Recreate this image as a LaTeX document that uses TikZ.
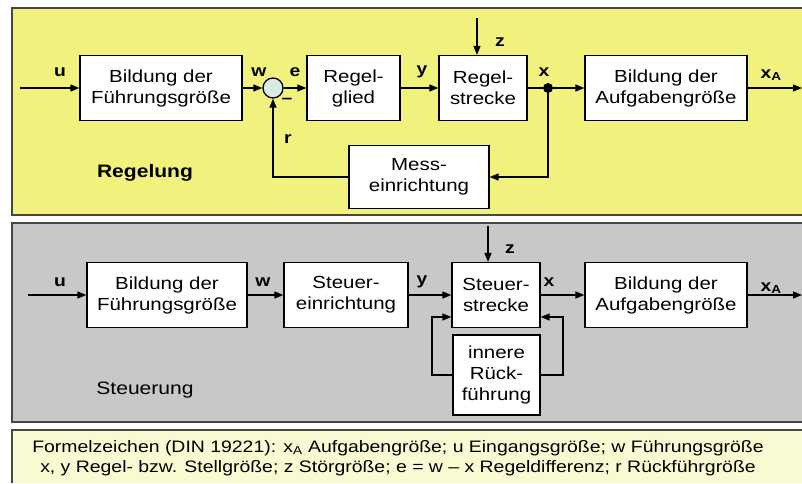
\documentclass[tikz,border=0pt]{standalone}
\usepackage{fontspec}
\setmainfont{Liberation Sans}[FakeStretch=1.17]
\usetikzlibrary{positioning, arrows.meta, calc}
\definecolor{panelyellow}{RGB}{240,242,125}
\definecolor{panelgray}{RGB}{200,200,200}
\definecolor{noteyellow}{RGB}{250,250,210}
\definecolor{framegray}{RGB}{70,70,70}
\definecolor{sumfill}{RGB}{215,236,228}

\begin{document}
\begin{tikzpicture}[x=1pt, y=-1pt,
    blk/.style={draw, line width=1.2pt, fill=white, align=center, inner sep=0pt,
        font=\fontsize{17.5}{21}\selectfont},
    sig/.style={font=\bfseries\fontsize{16.5}{18}\selectfont, inner sep=0pt},
    arr/.style={line width=1.3pt, -{Triangle[length=9pt, width=7pt]}},
    ln/.style={line width=1.3pt},
    frame/.style={framegray, line width=1.8pt}]
    \useasboundingbox (0,0) rectangle (802,483);
    \fill[white] (0,0) rectangle (802,483);
    % Regelung
    \fill[panelyellow] (12,8) rectangle (802,215);
    \draw[frame] (802,8) -- (12,8) -- (12,215) -- (802,215);
    \node[blk, minimum width=162, minimum height=65] (fgA) at (161,88) {Bildung der\\Führungsgröße};
    \node[circle, draw, fill=sumfill, minimum size=20, inner sep=0pt, line width=1.3pt] (sum) at (273,88) {};
    \node[blk, minimum width=93, minimum height=65] (rg) at (353.5,88) {Regel-\\glied};
    \node[blk, minimum width=88, minimum height=65] (rs) at (483,88) {Regel-\\strecke};
    \node[blk, minimum width=162, minimum height=65] (agA) at (666,88) {Bildung der\\Aufgabengröße};
    \node[blk, minimum width=140, minimum height=63] (mess) at (419,177) {Mess-\\einrichtung};
    \coordinate (uA) at (20,88);
    \coordinate (dot) at (548,88);
    \coordinate (xA) at (802,88);
    \coordinate (zA) at (477,18);
    \draw[arr] (uA) -- (fgA);
    \draw[arr] (fgA) -- (sum);
    \draw[arr] (sum) -- (rg);
    \draw[arr] (rg) -- (rs);
    \draw[ln] (rs) -- (dot);
    \draw[arr] (dot) -- (agA);
    \draw[arr] (agA) -- (xA);
    \draw[arr] (zA) -- (zA |- rs.north);
    \draw[arr] (dot) |- (mess);
    \draw[arr] (mess) -| (sum);
    \fill (dot) circle (5);
    \node[sig] (luA) at (60,72) {u};
    \node[sig] (lwA) at (259,72) {w};
    \node[sig] (le) at (295,72) {e};
    \node[sig] (lminus) at (287,101) {–};
    \node[sig] (lr) at (288,139) {r};
    \node[sig] (lyA) at (422,72) {y};
    \node[sig] (lxA) at (544,72) {x};
    \node[sig] (lzA) at (500,42) {z};
    \node[sig] (lxaA) at (771,75) {x\textsubscript{A}};
    \node[font=\bfseries\fontsize{18}{20}\selectfont] (regelung) at (145,173) {Regelung};
    % Steuerung
    \fill[panelgray] (12,223) rectangle (802,422);
    \draw[frame] (802,223) -- (12,223) -- (12,422) -- (802,422);
    \node[blk, minimum width=160, minimum height=65] (fgB) at (167,295) {Bildung der\\Führungsgröße};
    \node[blk, minimum width=124, minimum height=65] (se) at (346,295) {Steuer-\\einrichtung};
    \node[blk, minimum width=88, minimum height=65] (ss) at (496,295) {Steuer-\\strecke};
    \node[blk, minimum width=87, minimum height=80] (ir) at (496.5,375) {innere\\Rück-\\führung};
    \node[blk, minimum width=162, minimum height=65] (agB) at (666,295) {Bildung der\\Aufgabengröße};
    \coordinate (uB) at (28,295);
    \coordinate (xB) at (802,295);
    \coordinate (zB) at (488,226);
    \coordinate (fbL) at (432,317);
    \coordinate (fbR) at (563,317);
    \draw[arr] (uB) -- (fgB);
    \draw[arr] (fgB) -- (se);
    \draw[arr] (se) -- (ss);
    \draw[arr] (ss) -- (agB);
    \draw[arr] (agB) -- (xB);
    \draw[arr] (zB) -- (zB |- ss.north);
    \draw[arr] (ir.west) -| (fbL) -- (fbL -| ss.west);
    \draw[arr] (ir.east) -| (fbR) -- (fbR -| ss.east);
    \node[sig] (luB) at (60,282) {u};
    \node[sig] (lwB) at (263,282) {w};
    \node[sig] (lyB) at (422,282) {y};
    \node[sig] (lxB) at (549,282) {x};
    \node[sig] (lzB) at (510,249) {z};
    \node[sig] (lxaB) at (771,288) {x\textsubscript{A}};
    \node[font=\fontsize{18}{20}\selectfont] (steuerung) at (145,390) {Steuerung};
    % Formelzeichen
    \fill[noteyellow] (12,430) rectangle (802,483);
    \draw[frame] (802,430) -- (12,430) -- (12,483);
    \node[align=center, font=\fontsize{16.6}{20}\selectfont] (legend) at (398,458)
      {Formelzeichen (DIN 19221): x\textsubscript{A} Aufgabengröße; u Eingangsgröße; w Führungsgröße\\
       x, y Regel- bzw. Stellgröße; z Störgröße; e = w – x Regeldifferenz; r Rückführgröße};
\end{tikzpicture}
\end{document}
